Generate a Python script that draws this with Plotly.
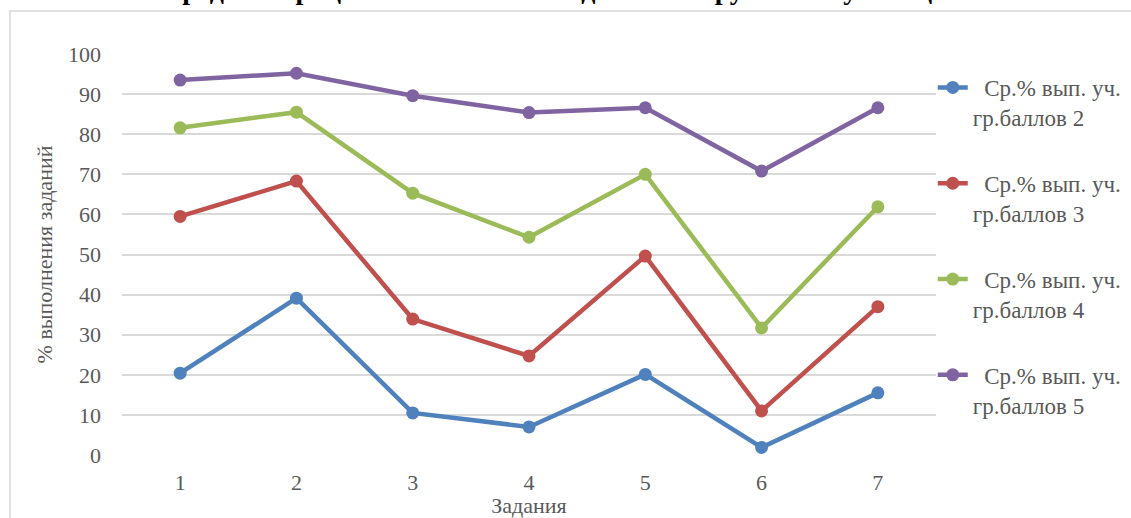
import plotly.graph_objects as go

tasks = [1, 2, 3, 4, 5, 6, 7]
task_labels = ["1", "2", "3", "4", "5", "6", "7"]
group2 = [20.4, 39.1, 10.5, 7.0, 20.1, 1.9, 15.5]
group3 = [59.5, 68.3, 33.9, 24.7, 49.6, 11.0, 37.0]
group4 = [81.6, 85.5, 65.3, 54.3, 70.0, 31.7, 61.9]
group5 = [93.5, 95.2, 89.6, 85.4, 86.6, 70.8, 86.6]
series_names = [
    "\u00a0\u00a0Ср.% вып. уч.<br>гр.баллов 2",
    "\u00a0\u00a0Ср.% вып. уч.<br>гр.баллов 3",
    "\u00a0\u00a0Ср.% вып. уч.<br>гр.баллов 4",
    "\u00a0\u00a0Ср.% вып. уч.<br>гр.баллов 5",
]
colors = ["#4F81BD", "#C0504D", "#9BBB59", "#8064A2"]
title_text = "Средний процент выполнения заданий по группам обучающихся"
x_title = "Задания"
y_title = "% выполнения заданий"

FONT = "Liberation Serif, Times New Roman, serif"
GREY = "#595959"
FS = 22

fig = go.Figure()
for i, (vals, name, col) in enumerate(zip([group2, group3, group4, group5], series_names, colors)):
    fig.add_trace(go.Scatter(
        x=tasks, y=vals, name=name, mode="lines+markers",
        line=dict(color=col, width=4.5),
        marker=dict(color=col, size=13),
        legendgroup=f"g{i}",
    ))

W, H = 1131, 518
PX0, PX1, PY0, PY1 = 122, 936, 54, 455  # plot area in window pixels
L, T = PX0, PY0
R, B = W - PX1, H - PY1
pw, ph = PX1 - PX0, PY1 - PY0


def px(xw):
    return (xw - PX0) / pw


def py(yw):
    return 1 - (yw - PY0) / ph


fig.update_layout(
    width=W, height=H,
    margin=dict(l=L, r=R, t=T, b=B, autoexpand=False),
    paper_bgcolor="white", plot_bgcolor="white",
    font=dict(family=FONT, color=GREY, size=FS),
    showlegend=True,
    legend=dict(
        x=px(923) + 0.012, xanchor="left",
        y=py(66), yanchor="top",
        font=dict(family=FONT, size=23, color=GREY),
        tracegroupgap=33, traceorder="grouped", valign="top",
        bgcolor="rgba(0,0,0,0)",
    ),
    xaxis=dict(
        tickmode="array", tickvals=tasks, ticktext=task_labels,
        range=[0.5, 7.5], showgrid=False, zeroline=False, showline=False,
        ticks="", ticklabelstandoff=12,
        tickfont=dict(family=FONT, size=FS, color=GREY),
        title=dict(text=x_title, standoff=0, font=dict(family=FONT, size=FS, color=GREY)),
    ),
    yaxis=dict(
        range=[0, 100], dtick=10, tick0=0,
        showgrid=True, gridcolor="#D9D9D9", gridwidth=1.5,
        zeroline=False, showline=False, ticks="", ticklabelstandoff=20,
        tickfont=dict(family=FONT, size=FS, color=GREY),
        title=dict(text=y_title, standoff=9, font=dict(family=FONT, size=FS, color=GREY)),
    ),
    shapes=[dict(
        type="rect", xref="paper", yref="paper", layer="below",
        x0=px(10), x1=1.5, y0=-0.5, y1=py(11),
        line=dict(color="#D9D9D9", width=1.5), fillcolor="rgba(0,0,0,0)",
    )],
    annotations=[dict(
        text="<b>" + title_text + "</b>", xref="paper", yref="paper",
        x=px(575), y=py(7), xanchor="center", yanchor="bottom",
        showarrow=False, font=dict(family=FONT, size=28, color="black"),
    )],
)

fig.write_html("out.html", config={"displayModeBar": False},
               post_script="document.body.style.margin='0';")
